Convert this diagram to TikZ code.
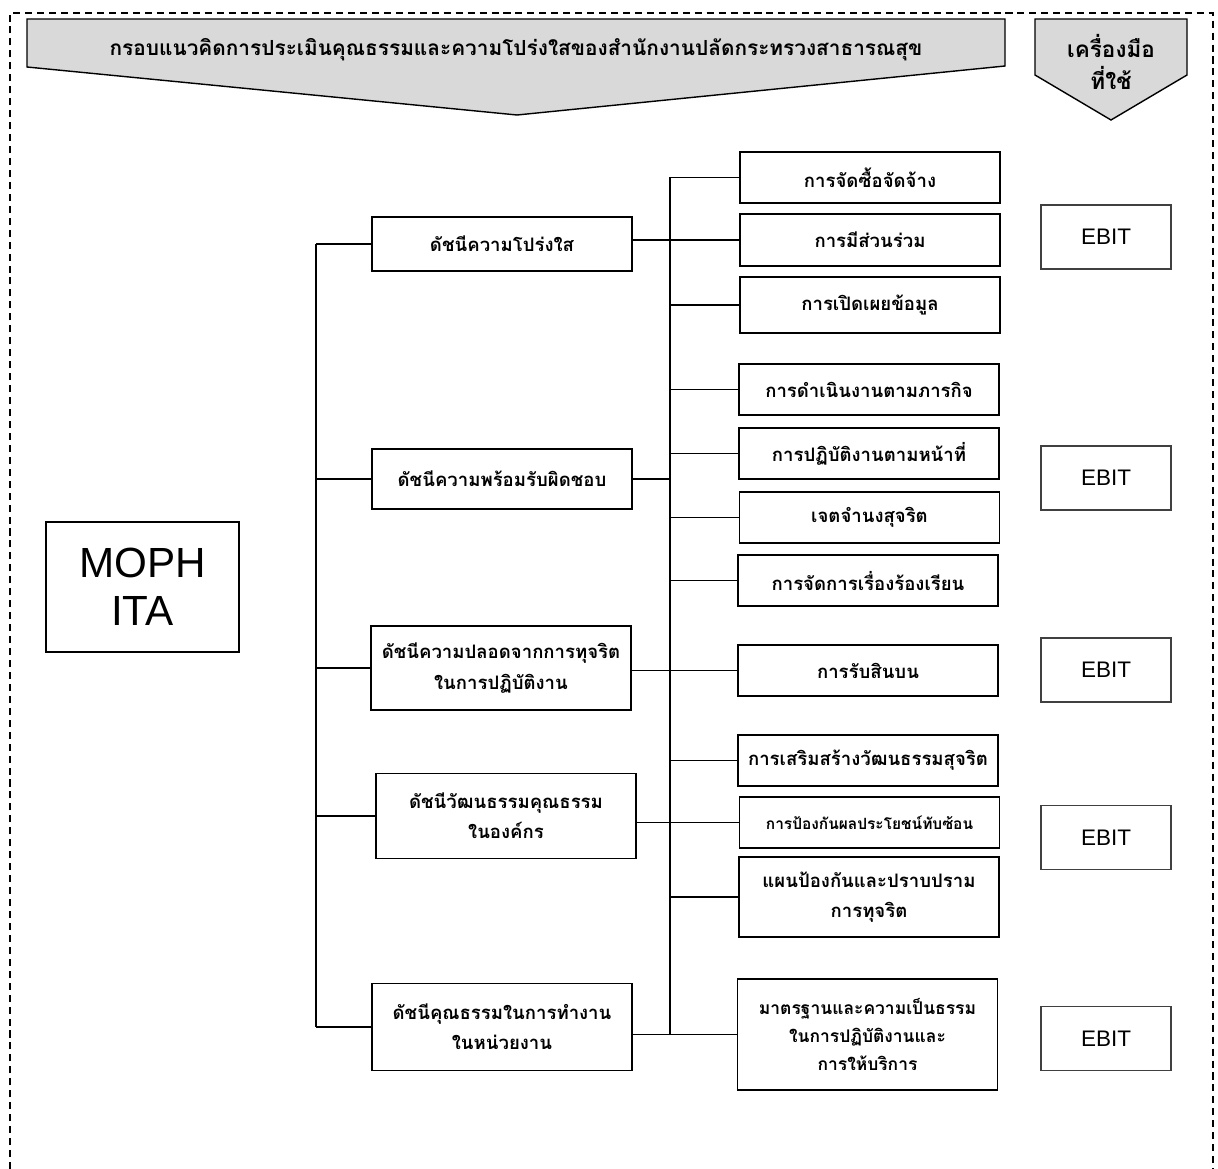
\documentclass[tikz,border=0pt]{standalone}
\usepackage{fontspec}
\newfontfamily\thaifont[Script=Thai]{Loma}
\newfontfamily\arialfont{Liberation Sans}
\definecolor{bannergray}{HTML}{D9D9D9}
\tikzset{
  idxbox/.style={draw, line width=1.2pt, minimum width=6.5cm, inner sep=0pt, align=center,
    font=\thaifont\bfseries\fontsize{13.2}{21.5}\selectfont},
  subbox/.style={idxbox},
  ebitbox/.style={draw=black!75, line width=0.8pt, minimum width=3.25cm, minimum height=1.6cm,
    font=\arialfont\fontsize{16}{18}\selectfont},
  link/.style={line width=1.2pt},
}
\begin{document}
\begin{tikzpicture}[x=0.025cm, y=-0.025cm]
	\useasboundingbox (0,0) rectangle (1218,1169);
	\draw[line width=1.1pt, dash pattern=on 5pt off 3.5pt] (10,1169) -- (10,13) -- (1213,13) -- (1213,1169);

	\draw[fill=bannergray, line width=1pt] (27,19) -- (1005,19) -- (1005,66) -- (517,115) -- (27,67) -- cycle;
	\node[font=\thaifont\bfseries\fontsize{14.8}{18}\selectfont] (title) at (516,50)
		{กรอบแนวคิดการประเมินคุณธรรมและความโปร่งใสของสำนักงานปลัดกระทรวงสาธารณสุข};
	\draw[fill=bannergray, line width=1pt] (1035,19) -- (1187,19) -- (1187,75) -- (1111,120) -- (1035,75) -- cycle;
	\node[align=center, font=\thaifont\bfseries\fontsize{16}{23}\selectfont] (tools) at (1111,62) {เครื่องมือ\\ที่ใช้};

	\node[draw, line width=0.8pt, minimum width=4.825cm, minimum height=3.25cm, align=center,
		font=\arialfont\fontsize{30}{34}\selectfont] (moph) at (142.5,587) {MOPH\\ITA};

	\node[idxbox, minimum height=1.35cm] (idx1) at (502,244) {ดัชนีความโปร่งใส};
	\node[idxbox, minimum height=1.5cm] (idx2) at (502,479) {ดัชนีความพร้อมรับผิดชอบ};
	\node[idxbox, minimum height=2.1cm] (idx3) at (501,668) {ดัชนีความปลอดจากการทุจริต\\ในการปฏิบัติงาน};
	\node[idxbox, minimum height=2.125cm] (idx4) at (506,816) {ดัชนีวัฒนธรรมคุณธรรม\\ในองค์กร};
	\node[idxbox, minimum height=2.175cm] (idx5) at (502,1027) {ดัชนีคุณธรรมในการทำงาน\\ในหน่วยงาน};

	\node[subbox, minimum height=1.275cm] (buy) at (870,177.5) {การจัดซื้อจัดจ้าง};
	\node[subbox, minimum height=1.3cm] (part) at (870,240) {การมีส่วนร่วม};
	\node[subbox, minimum height=1.4cm] (open) at (870,305) {การเปิดเผยข้อมูล};
	\node[subbox, minimum height=1.275cm] (mission) at (869,389.5) {การดำเนินงานตามภารกิจ};
	\node[subbox, minimum height=1.275cm] (duty) at (869,453.5) {การปฏิบัติงานตามหน้าที่};
	\node[subbox, minimum height=1.275cm] (intent) at (869.5,517.5) {เจตจำนงสุจริต};
	\node[subbox, minimum height=1.275cm] (complaint) at (868,580.5) {การจัดการเรื่องร้องเรียน};
	\node[subbox, minimum height=1.275cm] (bribe) at (868,670.5) {การรับสินบน};
	\node[subbox, minimum height=1.275cm] (culture) at (868,760.5) {การเสริมสร้างวัฒนธรรมสุจริต};
	\node[subbox, minimum height=1.275cm, font=\thaifont\bfseries\fontsize{11}{18}\selectfont] (conflict) at (869.5,822.5) {การป้องกันผลประโยชน์ทับซ้อน};
	\node[subbox, minimum height=2cm] (plan) at (869,897) {แผนป้องกันและปราบปราม\\การทุจริต};
	\node[subbox, minimum height=2.775cm, font=\thaifont\bfseries\fontsize{12.4}{20}\selectfont] (std) at (867.5,1034.5) {มาตรฐานและความเป็นธรรม\\ในการปฏิบัติงานและ\\การให้บริการ};

	\foreach \i/\y in {1/237,2/478,3/670,4/837.5,5/1038.5}
		\node[ebitbox] (ebit\i) at (1106,\y) {EBIT};

	\coordinate (trunk) at (316,0);
	\coordinate (spine) at (670,0);
	\draw[link] (trunk |- idx1.west) -- (trunk |- idx5.west);
	\foreach \n in {idx1,idx2,idx3,idx4,idx5}
		\draw[link] (trunk |- \n.west) -- (\n.west);
	\draw[link] (spine |- buy.west) -- (spine |- std.west);
	\foreach \n in {buy,part,open,mission,duty,intent,complaint,bribe,culture,conflict,plan,std}
		\draw[link] (spine |- \n.west) -- (\n.west);
	\draw[link] (idx1.east |- part.west) -- (spine |- part.west);
	\draw[link] (idx2.east) -- (spine |- idx2.east);
	\draw[link] (idx3.east |- bribe.west) -- (spine |- bribe.west);
	\draw[link] (idx4.east |- conflict.west) -- (spine |- conflict.west);
	\draw[link] (idx5.east |- std.west) -- (spine |- std.west);
\end{tikzpicture}
\end{document}
